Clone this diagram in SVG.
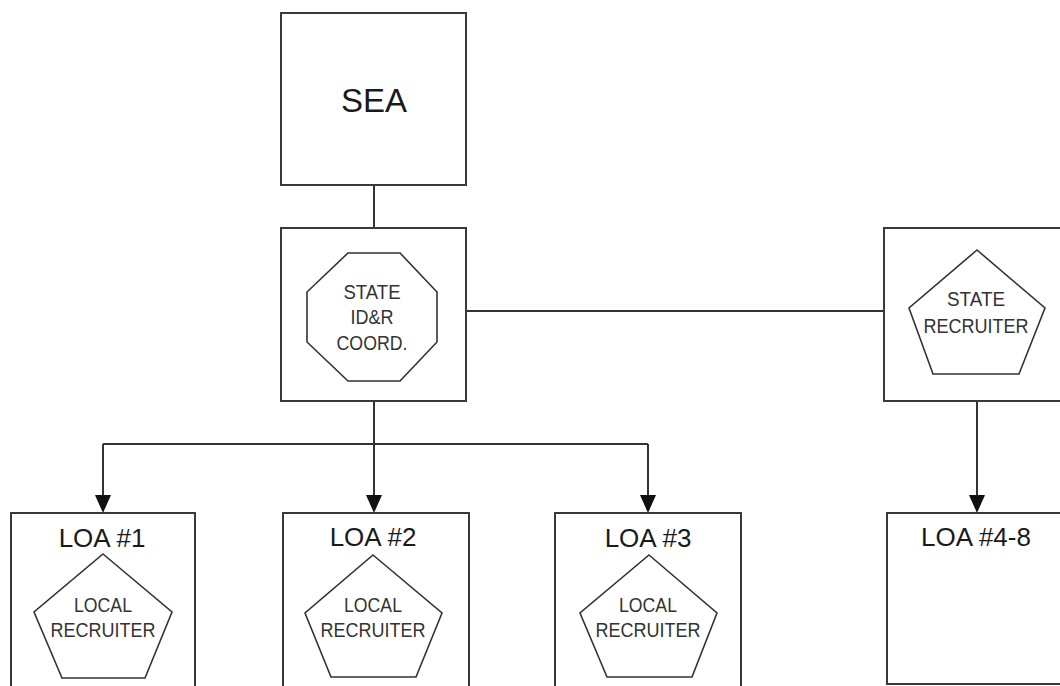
<svg xmlns="http://www.w3.org/2000/svg" width="1060" height="686" viewBox="0 0 1060 686">
<style>
.box{fill:#fff;stroke:#3a3a3a;stroke-width:2}
.shape{fill:#fff;stroke:#333;stroke-width:1.6}
.big{font-family:"Liberation Sans",Arial,sans-serif;fill:#1a1a1a;text-anchor:middle}
.small{font-family:"Liberation Sans",Arial,sans-serif;font-size:20px;fill:#333;text-anchor:middle}
.conn{fill:none;stroke:#333;stroke-width:2}
.head{fill:#111}
</style>
<rect width="1060" height="686" fill="#fff"/>
<g id="connectors">
<line class="conn" x1="374" y1="185" x2="374" y2="228"/>
<line class="conn" x1="466" y1="311" x2="884" y2="311"/>
<path class="conn" d="M374,401 V444"/>
<path class="conn" d="M103,444 H648"/>
<line class="conn" x1="103" y1="444" x2="103" y2="495"/>
<path class="head" d="M95,495 L111,495 L103,513 Z"/>
<line class="conn" x1="374" y1="444" x2="374" y2="495"/>
<path class="head" d="M366,495 L382,495 L374,513 Z"/>
<line class="conn" x1="648" y1="444" x2="648" y2="495"/>
<path class="head" d="M640,495 L656,495 L648,513 Z"/>
<line class="conn" x1="977" y1="401" x2="977" y2="495"/>
<path class="head" d="M969,495 L985,495 L977,513 Z"/>
</g>
<g id="sea">
<rect class="box" x="281" y="13" width="185" height="172"/>
<text class="big" x="374" y="112" font-size="33">SEA</text>
</g>
<g id="coord">
<rect class="box" x="281" y="228" width="185" height="173"/>
<polygon class="shape" points="348,253 400,253 437,292 437,342 400,381 348,381 307,342 307,292"/>
<text class="small" x="372" y="299" textLength="57" lengthAdjust="spacingAndGlyphs">STATE</text>
<text class="small" x="372" y="324" textLength="43" lengthAdjust="spacingAndGlyphs">ID&amp;R</text>
<text class="small" x="372" y="350" textLength="71" lengthAdjust="spacingAndGlyphs">COORD.</text>
</g>
<g id="state-recruiter">
<rect class="box" x="884" y="228" width="190" height="173"/>
<polygon class="shape" points="977,250 1045,308 1019,374 933,374 909,308"/>
<text class="small" x="976" y="306" textLength="58" lengthAdjust="spacingAndGlyphs">STATE</text>
<text class="small" x="976" y="333" textLength="105" lengthAdjust="spacingAndGlyphs">RECRUITER</text>
</g>
<g id="loa1">
<rect class="box" x="11" y="513" width="184" height="185"/>
<text class="big" x="102" y="547" font-size="26">LOA #1</text>
<polygon class="shape" points="103,554 172,612 145,678 62,678 34,612"/>
<text class="small" x="103" y="612" textLength="58" lengthAdjust="spacingAndGlyphs">LOCAL</text>
<text class="small" x="103" y="637" textLength="105" lengthAdjust="spacingAndGlyphs">RECRUITER</text>
</g>
<g id="loa2">
<rect class="box" x="283" y="513" width="186" height="185"/>
<text class="big" x="373" y="546" font-size="26">LOA #2</text>
<polygon class="shape" points="373,555 442,613 416,677 331,677 305,613"/>
<text class="small" x="373" y="612" textLength="58" lengthAdjust="spacingAndGlyphs">LOCAL</text>
<text class="small" x="373" y="637" textLength="105" lengthAdjust="spacingAndGlyphs">RECRUITER</text>
</g>
<g id="loa3">
<rect class="box" x="555" y="513" width="186" height="185"/>
<text class="big" x="648" y="547" font-size="26">LOA #3</text>
<polygon class="shape" points="649,555 717,613 692,677 607,677 580,613"/>
<text class="small" x="648" y="612" textLength="58" lengthAdjust="spacingAndGlyphs">LOCAL</text>
<text class="small" x="648" y="637" textLength="105" lengthAdjust="spacingAndGlyphs">RECRUITER</text>
</g>
<g id="loa4-8">
<rect class="box" x="887" y="513" width="190" height="171"/>
<text class="big" x="976" y="546" font-size="26">LOA #4-8</text>
</g>
</svg>
